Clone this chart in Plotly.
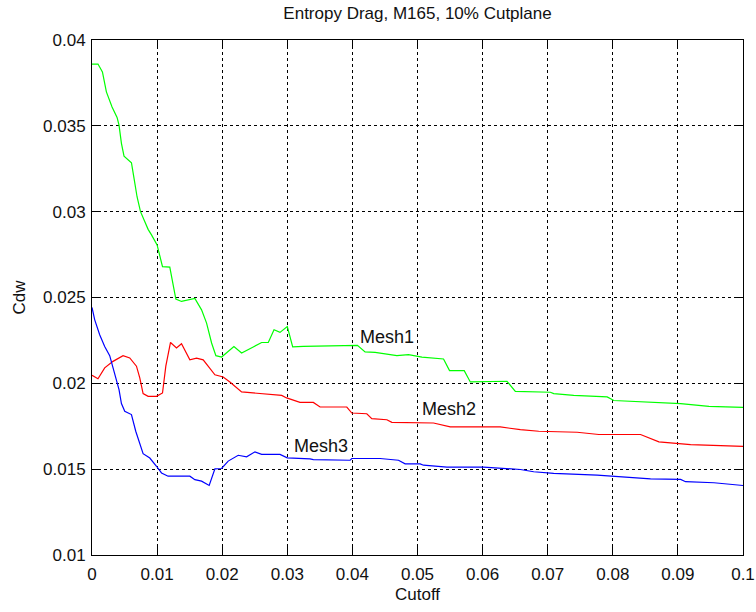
import plotly.graph_objects as go

# Mesh1 (green)
mesh1_x = [0, 0.00092, 0.0016, 0.00221, 0.00308, 0.00385, 0.00415, 0.00452, 0.00492, 0.00606,
           0.00642, 0.00692, 0.00745, 0.00862, 0.00914, 0.0100, 0.01083, 0.01195, 0.01288, 0.01375,
           0.0158, 0.01683, 0.0176, 0.01837, 0.01903, 0.01991, 0.0218, 0.02298, 0.02477, 0.02606,
           0.02708, 0.02796, 0.02888, 0.0300, 0.03083, 0.03246, 0.04077, 0.04195, 0.04349, 0.04683,
           0.04862, 0.05068, 0.0540, 0.05492, 0.05718, 0.05811, 0.06375, 0.06503, 0.07042, 0.07092,
           0.0740, 0.07914, 0.08015, 0.0858, 0.09042, 0.09477, 0.1]
mesh1_y = [0.0386, 0.0386, 0.03814, 0.03698, 0.0361, 0.03549, 0.03504, 0.03398, 0.03323, 0.03285,
           0.03203, 0.03087, 0.0300, 0.02897, 0.02865, 0.02806, 0.0268, 0.02677, 0.02491, 0.02477,
           0.02494, 0.02428, 0.02351, 0.02235, 0.02161, 0.02153, 0.02215, 0.02177, 0.02212, 0.02238,
           0.02238, 0.02312, 0.02297, 0.02331, 0.02212, 0.02215, 0.02221, 0.02183, 0.0218, 0.02161,
           0.02167, 0.02153, 0.02142, 0.02074, 0.02074, 0.02008, 0.02012, 0.01953, 0.01948, 0.0194,
           0.0193, 0.01921, 0.0190, 0.01892, 0.01882, 0.01866, 0.0186]

# Mesh2 (red)
mesh2_x = [0, 0.00092, 0.00195, 0.00323, 0.00477, 0.0058, 0.00683, 0.00734, 0.00785, 0.00862,
           0.00991, 0.01083, 0.01134, 0.01206, 0.01298, 0.01375, 0.01503, 0.01606, 0.01708, 0.01888,
           0.02015, 0.02118, 0.02298, 0.02477, 0.02914, 0.0299, 0.03195, 0.0340, 0.03503, 0.03914,
           0.03991, 0.04221, 0.04298, 0.04529, 0.04606, 0.05246, 0.05503, 0.06272, 0.0658, 0.06862,
           0.07452, 0.07785, 0.08426, 0.08708, 0.0899, 0.09195, 0.1]
mesh2_y = [0.02047, 0.02027, 0.0209, 0.02128, 0.02161, 0.02148, 0.0210, 0.02032, 0.0194, 0.01924,
           0.01924, 0.01944, 0.0210, 0.02238, 0.02206, 0.02231, 0.02137, 0.02147, 0.02137, 0.0205,
           0.02037, 0.02008, 0.0195, 0.01944, 0.0193, 0.01915, 0.01889, 0.01889, 0.01862, 0.01862,
           0.01827, 0.01823, 0.01794, 0.01788, 0.01773, 0.01769, 0.01746, 0.01746, 0.0173, 0.01721,
           0.01715, 0.01702, 0.01702, 0.01659, 0.01649, 0.01643, 0.01633]

# Mesh3 (blue)
mesh3_x = [0, 0.00042, 0.00118, 0.00195, 0.00272, 0.00349, 0.00415, 0.00452, 0.00503, 0.00606,
           0.00672, 0.00785, 0.00888, 0.00991, 0.01068, 0.01169, 0.01503, 0.0158, 0.01683, 0.0180,
           0.01888, 0.01991, 0.02092, 0.02246, 0.02375, 0.02503, 0.02606, 0.02888, 0.0300, 0.03349,
           0.0340, 0.03965, 0.03991, 0.04426, 0.04708, 0.0481, 0.05041, 0.05092, 0.05452, 0.06015,
           0.0658, 0.06785, 0.07092, 0.0776, 0.08169, 0.0858, 0.09042, 0.09118, 0.09554, 0.09862, 0.1]
mesh3_y = [0.02442, 0.0237, 0.02283, 0.02215, 0.02161, 0.0206, 0.01963, 0.01882, 0.01837, 0.01818,
           0.01721, 0.0159, 0.01565, 0.01517, 0.01478, 0.01459, 0.01459, 0.01439, 0.0143, 0.01405,
           0.01502, 0.01504, 0.01547, 0.01581, 0.01572, 0.01601, 0.01586, 0.01586, 0.01566, 0.0156,
           0.01556, 0.01552, 0.01562, 0.01562, 0.01552, 0.01531, 0.01531, 0.01523, 0.01512, 0.01512,
           0.01498, 0.01485, 0.01475, 0.01465, 0.01456, 0.01444, 0.0144, 0.01427, 0.01421, 0.01407, 0.01405]

x_ticks = [0, 0.01, 0.02, 0.03, 0.04, 0.05, 0.06, 0.07, 0.08, 0.09, 0.1]
x_ticklabels = ["0", "0.01", "0.02", "0.03", "0.04", "0.05", "0.06", "0.07", "0.08", "0.09", "0.1"]
y_ticks = [0.01, 0.015, 0.02, 0.025, 0.03, 0.035, 0.04]
y_ticklabels = ["0.01", "0.015", "0.02", "0.025", "0.03", "0.035", "0.04"]

labels = ["Mesh1", "Mesh2", "Mesh3"]
label_x = [0.0409, 0.0504, 0.0307]
label_y = [0.02269, 0.01852, 0.01634]

FONT = "Liberation Sans, Arial, sans-serif"
TXT = "#111111"

fig = go.Figure()
for xs, ys, c, n in [(mesh1_x, mesh1_y, "#00ff00", "Mesh1"),
                     (mesh2_x, mesh2_y, "#ff0000", "Mesh2"),
                     (mesh3_x, mesh3_y, "#0000ff", "Mesh3")]:
    fig.add_trace(go.Scatter(x=xs, y=ys, mode="lines", name=n,
                             line=dict(color=c, width=1.2), showlegend=False))

for t, lx, ly in zip(labels, label_x, label_y):
    fig.add_annotation(x=lx, y=ly, text=t, showarrow=False, xanchor="left", yanchor="middle",
                       font=dict(family=FONT, size=18, color=TXT))

axis_common = dict(showline=True, linecolor="black", linewidth=1, mirror="ticks",
                   ticks="inside", ticklen=8, tickcolor="black", tickwidth=1,
                   showgrid=True, gridcolor="black", gridwidth=1, griddash="3px,3px",
                   zeroline=False, automargin=False,
                   tickfont=dict(family=FONT, size=17, color=TXT))

fig.update_xaxes(range=[0, 0.1], tickvals=x_ticks, ticktext=x_ticklabels,
                 title=dict(text="Cutoff", font=dict(family=FONT, size=17, color=TXT), standoff=4),
                 ticklabelstandoff=4,
                 **axis_common)
fig.update_yaxes(range=[0.01, 0.04], tickvals=y_ticks, ticktext=y_ticklabels,
                 title=dict(text="Cdw", font=dict(family=FONT, size=17, color=TXT), standoff=13),
                 ticklabelstandoff=2,
                 **axis_common)

fig.update_layout(
    width=756, height=612,
    margin=dict(l=92, r=13, t=40, b=57),
    paper_bgcolor="white", plot_bgcolor="white",
    title=dict(text="Entropy Drag, M165, 10% Cutplane", x=0.5523, xanchor="center",
               y=0.979, yanchor="middle",
               font=dict(family=FONT, size=17, color=TXT)),
)

fig.write_html("out.html")
